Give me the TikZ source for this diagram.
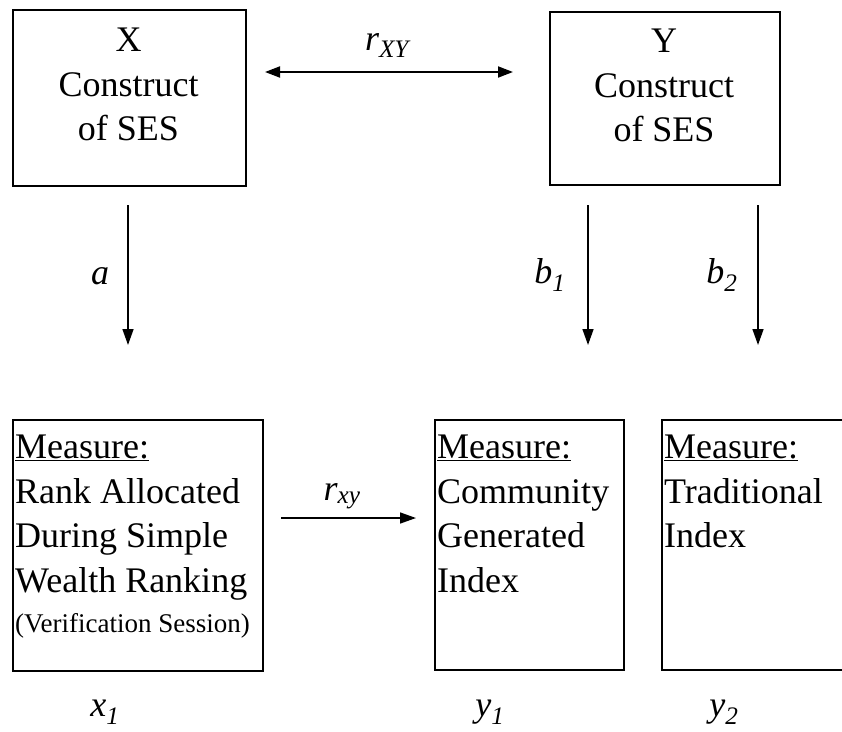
\documentclass[tikz,border=0pt]{standalone}
\usepackage{fontspec}
\setmainfont{Liberation Serif}
\usetikzlibrary{arrows.meta}
\tikzset{
  box/.style={draw, line width=2pt, rectangle, inner sep=0pt, anchor=north west},
  ctext/.style={align=center, inner sep=0pt, anchor=north, font=\fontsize{36}{44.5}\selectfont},
  ltext/.style={align=left, inner sep=0pt, anchor=north west, font=\fontsize{36}{44.5}\selectfont},
  lbl/.style={inner sep=0pt, anchor=base, font=\fontsize{36}{40}\selectfont\itshape},
  conn/.style={line width=1.5pt, -{Triangle[length=16pt,width=11pt]}},
  conn2/.style={line width=1.8pt, {Triangle[length=15pt,width=11pt]}-{Triangle[length=15pt,width=11pt]}},
}
\begin{document}
\begin{tikzpicture}[x=1pt,y=-1pt]
\useasboundingbox (0,0) rectangle (842,731);
\fill[white] (0,0) rectangle (842,731);
% top boxes
\node[box, minimum width=233pt, minimum height=176pt] (X) at (12,9) {};
\node[ctext] (Xt) at (128.5,28) {X\\Construct\\of SES};
\node[box, minimum width=230pt, minimum height=173pt] (Y) at (549,11) {};
\node[ctext] (Yt) at (664,29) {Y\\Construct\\of SES};
% correlation between constructs
\coordinate (rl) at (265,72);
\coordinate (rr) at (513,72);
\draw[conn2] (rl) -- (rr);
\node[lbl] (rXY) at (387,50) {r\textsubscript{XY}};
% downward arrows
\coordinate (a1) at (128,205);
\coordinate (a2) at (128,345);
\coordinate (b1s) at (588,205);
\coordinate (b1e) at (588,345);
\coordinate (b2s) at (758,205);
\coordinate (b2e) at (758,345);
\draw[conn] (a1) -- (a2);
\draw[conn] (b1s) -- (b1e);
\draw[conn] (b2s) -- (b2e);
\node[lbl] (la) at (100,284) {a};
\node[lbl] (lb1) at (550,283) {b\textsubscript{1}};
\node[lbl] (lb2) at (722,283) {b\textsubscript{2}};
% bottom boxes
\node[box, minimum width=250pt, minimum height=251pt] (x1) at (12,419) {};
\node[ltext] (x1t) at (15,435) {\underline{Measure:}\\Rank Allocated\\During Simple\\Wealth Ranking\\[-4.5pt]{\fontsize{27}{30}\selectfont(Verification Session)}};
\node[box, minimum width=189pt, minimum height=250pt] (y1) at (434,419) {};
\node[ltext] (y1t) at (437,435) {\underline{Measure:}\\Community\\Generated\\Index};
\node[box, minimum width=240pt, minimum height=250pt] (y2) at (661,419) {};
\node[ltext] (y2t) at (664,435) {\underline{Measure:}\\Traditional\\Index};
% measured correlation
\coordinate (ml) at (281,518);
\coordinate (mr) at (416,518);
\draw[conn] (ml) -- (mr);
\node[lbl] (rxy) at (342,500) {r\textsubscript{xy}};
% variable labels
\node[lbl] (lx1) at (105,716) {x\textsubscript{1}};
\node[lbl] (ly1) at (490,716) {y\textsubscript{1}};
\node[lbl] (ly2) at (724,716) {y\textsubscript{2}};
\end{tikzpicture}
\end{document}
